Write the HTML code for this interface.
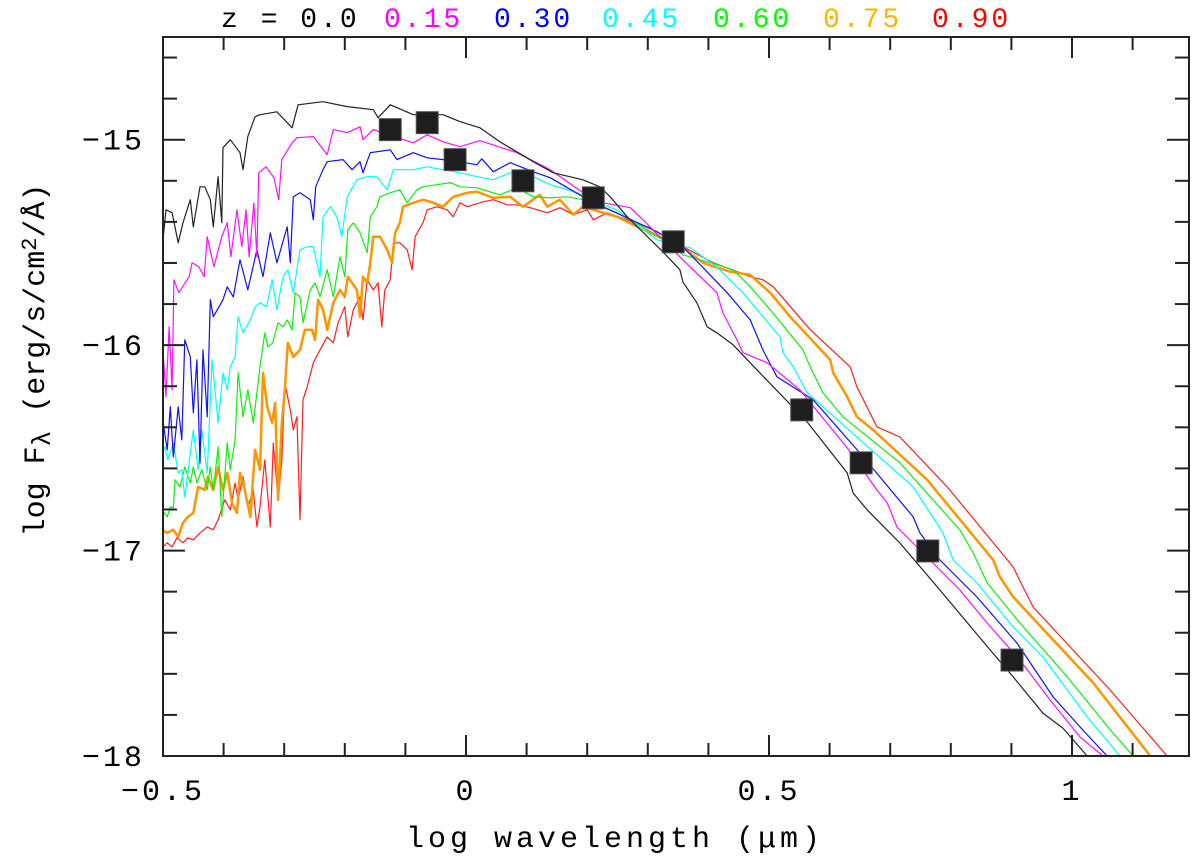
<!DOCTYPE html>
<html><head><meta charset="utf-8"><style>
html,body{margin:0;padding:0;background:#fff;}
svg{display:block;}
text{font-family:"Liberation Mono","DejaVu Sans Mono",monospace;}
</style></head><body>
<svg id="chart" width="1200" height="863" viewBox="0 0 1200 863" xmlns="http://www.w3.org/2000/svg">
<defs><clipPath id="plotclip"><rect x="163" y="37" width="1026" height="719"/></clipPath></defs>
<g font-size="28" letter-spacing="3">
<text x="221" y="27" fill="#000">z = 0.0</text>
<text x="384" y="27" fill="#ff00ff">0.15</text>
<text x="494" y="27" fill="#0000ff">0.30</text>
<text x="602" y="27" fill="#00ffff">0.45</text>
<text x="713" y="27" fill="#00ff00">0.60</text>
<text x="823" y="27" fill="#ffb400">0.75</text>
<text x="932" y="27" fill="#ff0000">0.90</text>
</g>
<g id="series" clip-path="url(#plotclip)"></g>
<g id="markers"></g>
<g id="axes"></g>
<text x="615" y="847" font-size="30" letter-spacing="4" text-anchor="middle" fill="#000">log wavelength (μm)</text>
<text transform="translate(44,360) rotate(-90)" font-size="30" text-anchor="middle" fill="#000">log F<tspan font-size="26" dy="6">λ</tspan><tspan dy="-6"> (erg/s/cm</tspan><tspan font-size="22" dy="-8">2</tspan><tspan dy="8">/Å)</tspan></text>
</svg>
<script>
const xTicksMajor = [-0.5, 0, 0.5, 1];
const xTickLabels = ["-0.5", "0", "0.5", "1"];
const yTicksMajor = [-15, -16, -17, -18];
const yTickLabels = ["-15", "-16", "-17", "-18"];

const blackX = [-0.5,-0.495,-0.485,-0.475,-0.467,-0.455,-0.45,-0.439,-0.431,-0.422,-0.417,-0.409,-0.403,-0.401,-0.389,-0.373,-0.368,-0.36,-0.348,-0.34,-0.312,-0.287,-0.277,-0.236,-0.196,-0.153,-0.145,-0.125,-0.087,-0.038,-0.01,0.023,0.056,0.111,0.144,0.193,0.221,0.238,0.266,0.325,0.353,0.358,0.381,0.398,0.414,0.441,0.485,0.563,0.629,0.639,0.662,0.716,0.782,0.865,0.903,0.952,0.985,1.025];
const blackY = [-15.487,-15.341,-15.356,-15.502,-15.404,-15.292,-15.424,-15.229,-15.229,-15.292,-15.424,-15.18,-15.404,-15.039,-15.0,-15.063,-15.146,-14.985,-14.888,-14.878,-14.864,-14.942,-14.83,-14.815,-14.839,-14.854,-14.893,-14.83,-14.878,-14.878,-14.912,-14.942,-15.01,-15.107,-15.161,-15.195,-15.229,-15.278,-15.375,-15.546,-15.633,-15.692,-15.794,-15.911,-15.94,-15.999,-16.135,-16.374,-16.622,-16.72,-16.802,-16.963,-17.192,-17.484,-17.615,-17.791,-17.864,-18.0];

const magentaX = [-0.5,-0.495,-0.49,-0.485,-0.482,-0.474,-0.457,-0.452,-0.441,-0.432,-0.427,-0.416,-0.403,-0.394,-0.388,-0.378,-0.37,-0.363,-0.358,-0.35,-0.345,-0.342,-0.33,-0.317,-0.309,-0.304,-0.287,-0.279,-0.252,-0.229,-0.219,-0.196,-0.175,-0.17,-0.153,-0.12,-0.087,-0.064,-0.038,-0.01,0.023,0.084,0.139,0.193,0.226,0.271,0.292,0.325,0.358,0.414,0.424,0.447,0.457,0.497,0.551,0.629,0.678,0.695,0.711,0.749,0.815,0.86,0.914,0.964,1.013,1.051];
const magentaY = [-16.023,-16.252,-15.911,-16.218,-15.682,-15.745,-15.667,-15.599,-15.619,-15.667,-15.472,-15.619,-15.472,-15.404,-15.57,-15.341,-15.521,-15.341,-15.57,-15.307,-15.57,-15.161,-15.132,-15.185,-15.292,-15.097,-15.015,-14.99,-14.985,-15.073,-14.951,-14.966,-14.937,-15.0,-14.951,-14.985,-15.015,-14.976,-15.01,-15.034,-15.005,-15.063,-15.146,-15.258,-15.307,-15.331,-15.39,-15.487,-15.585,-15.745,-15.843,-15.974,-16.037,-16.086,-16.218,-16.5,-16.705,-16.768,-16.885,-16.997,-17.192,-17.353,-17.533,-17.728,-17.907,-18.0];

const blueX = [-0.502,-0.493,-0.488,-0.483,-0.475,-0.469,-0.464,-0.455,-0.45,-0.444,-0.439,-0.434,-0.427,-0.422,-0.417,-0.401,-0.394,-0.384,-0.373,-0.36,-0.345,-0.335,-0.323,-0.312,-0.295,-0.29,-0.285,-0.274,-0.257,-0.252,-0.248,-0.236,-0.229,-0.203,-0.188,-0.175,-0.17,-0.158,-0.125,-0.114,-0.087,-0.064,-0.038,-0.01,0.018,0.026,0.045,0.073,0.111,0.139,0.193,0.226,0.315,0.358,0.431,0.469,0.49,0.513,0.573,0.65,0.738,0.749,0.782,0.843,0.909,0.969,1.018,1.058];
const blueY = [-16.33,-16.51,-16.3,-16.544,-16.3,-16.461,-15.974,-16.057,-16.33,-16.072,-16.574,-16.023,-16.349,-15.779,-15.862,-15.779,-15.716,-15.765,-15.585,-15.731,-15.536,-15.667,-15.453,-15.599,-15.424,-15.599,-15.278,-15.258,-15.292,-15.39,-15.229,-15.146,-15.107,-15.097,-15.146,-15.107,-15.161,-15.063,-15.049,-15.097,-15.063,-15.088,-15.097,-15.107,-15.122,-15.093,-15.156,-15.112,-15.156,-15.185,-15.278,-15.326,-15.448,-15.521,-15.745,-15.877,-16.023,-16.154,-16.266,-16.525,-16.836,-16.914,-17.046,-17.226,-17.45,-17.713,-17.874,-18.0];

const cyanX = [-0.502,-0.497,-0.492,-0.483,-0.475,-0.469,-0.464,-0.455,-0.45,-0.442,-0.436,-0.427,-0.419,-0.409,-0.401,-0.394,-0.389,-0.381,-0.376,-0.368,-0.356,-0.348,-0.34,-0.329,-0.32,-0.312,-0.302,-0.294,-0.285,-0.274,-0.262,-0.252,-0.241,-0.236,-0.224,-0.213,-0.205,-0.196,-0.18,-0.163,-0.147,-0.13,-0.12,-0.087,-0.064,-0.038,-0.01,0.018,0.045,0.073,0.111,0.139,0.183,0.205,0.249,0.315,0.37,0.414,0.457,0.518,0.523,0.54,0.563,0.65,0.738,0.787,0.804,0.843,0.903,0.952,1.025,1.079];
const cyanY = [-16.544,-16.495,-16.559,-16.476,-16.622,-16.607,-16.739,-16.524,-16.413,-16.607,-16.413,-16.622,-16.072,-16.378,-16.135,-16.218,-16.106,-16.057,-15.862,-15.94,-15.877,-15.813,-15.794,-15.813,-15.682,-15.828,-15.667,-15.633,-15.745,-15.536,-15.521,-15.521,-15.667,-15.375,-15.326,-15.375,-15.472,-15.278,-15.195,-15.18,-15.18,-15.244,-15.146,-15.146,-15.132,-15.146,-15.161,-15.18,-15.195,-15.161,-15.18,-15.219,-15.258,-15.292,-15.341,-15.487,-15.526,-15.619,-15.745,-15.96,-16.037,-16.106,-16.232,-16.461,-16.69,-16.914,-17.046,-17.158,-17.372,-17.518,-17.81,-18.0];

const greenX = [-0.502,-0.493,-0.488,-0.483,-0.48,-0.472,-0.464,-0.455,-0.45,-0.444,-0.436,-0.427,-0.422,-0.417,-0.409,-0.403,-0.394,-0.389,-0.381,-0.376,-0.368,-0.36,-0.351,-0.34,-0.332,-0.327,-0.319,-0.31,-0.302,-0.295,-0.287,-0.282,-0.274,-0.269,-0.257,-0.249,-0.241,-0.229,-0.219,-0.208,-0.2,-0.195,-0.186,-0.175,-0.163,-0.158,-0.147,-0.142,-0.125,-0.109,-0.097,-0.081,-0.071,-0.048,-0.026,-0.01,0.018,0.056,0.084,0.111,0.139,0.167,0.193,0.249,0.292,0.325,0.358,0.414,0.441,0.469,0.502,0.556,0.568,0.589,0.622,0.716,0.815,0.837,0.86,0.914,0.992,1.063,1.101];
const greenY = [-16.802,-16.836,-16.787,-16.792,-16.656,-16.69,-16.593,-16.671,-16.593,-16.671,-16.607,-16.705,-16.593,-16.705,-16.495,-16.836,-16.476,-16.607,-16.461,-16.135,-16.349,-16.218,-16.378,-16.106,-15.94,-16.008,-15.989,-15.891,-15.911,-15.877,-15.926,-15.745,-15.765,-15.891,-15.731,-15.697,-15.765,-15.633,-15.765,-15.57,-15.667,-15.438,-15.404,-15.453,-15.55,-15.375,-15.326,-15.278,-15.258,-15.244,-15.307,-15.244,-15.229,-15.219,-15.209,-15.229,-15.234,-15.268,-15.234,-15.278,-15.283,-15.278,-15.292,-15.356,-15.424,-15.487,-15.56,-15.609,-15.633,-15.716,-15.828,-16.023,-16.106,-16.232,-16.349,-16.573,-16.9,-17.012,-17.158,-17.353,-17.615,-17.873,-18.0];

const orangeX = [-0.502,-0.493,-0.483,-0.475,-0.467,-0.459,-0.45,-0.442,-0.431,-0.426,-0.417,-0.409,-0.401,-0.394,-0.386,-0.378,-0.373,-0.365,-0.356,-0.348,-0.34,-0.335,-0.328,-0.32,-0.315,-0.31,-0.304,-0.299,-0.294,-0.285,-0.274,-0.266,-0.254,-0.249,-0.244,-0.236,-0.229,-0.219,-0.208,-0.2,-0.195,-0.188,-0.18,-0.175,-0.17,-0.163,-0.158,-0.153,-0.142,-0.13,-0.122,-0.117,-0.109,-0.104,-0.087,-0.071,-0.054,-0.038,-0.021,0.002,0.018,0.045,0.073,0.094,0.122,0.134,0.155,0.177,0.193,0.249,0.304,0.358,0.391,0.436,0.469,0.502,0.535,0.601,0.606,0.629,0.645,0.672,0.761,0.87,0.881,0.903,1.035,1.129];
const orangeY = [-16.899,-16.914,-16.899,-16.933,-16.865,-16.836,-16.817,-16.69,-16.705,-16.641,-16.705,-16.593,-16.705,-16.622,-16.768,-16.817,-16.622,-16.705,-16.836,-16.51,-16.607,-16.135,-16.3,-16.378,-16.281,-16.753,-16.378,-16.218,-15.989,-16.057,-16.023,-15.926,-15.926,-15.974,-15.779,-15.828,-15.926,-15.794,-15.731,-15.765,-15.667,-15.697,-15.731,-15.862,-15.667,-15.697,-15.599,-15.472,-15.472,-15.536,-15.599,-15.453,-15.404,-15.326,-15.307,-15.292,-15.307,-15.326,-15.278,-15.258,-15.253,-15.283,-15.278,-15.326,-15.268,-15.326,-15.292,-15.365,-15.326,-15.375,-15.453,-15.526,-15.599,-15.643,-15.658,-15.745,-15.862,-16.072,-16.135,-16.252,-16.349,-16.413,-16.656,-17.046,-17.128,-17.226,-17.644,-18.0];

const redX = [-0.502,-0.493,-0.485,-0.477,-0.467,-0.459,-0.45,-0.439,-0.427,-0.417,-0.409,-0.398,-0.389,-0.381,-0.376,-0.368,-0.36,-0.351,-0.345,-0.34,-0.332,-0.323,-0.318,-0.31,-0.304,-0.299,-0.29,-0.285,-0.279,-0.274,-0.269,-0.262,-0.252,-0.241,-0.229,-0.219,-0.211,-0.2,-0.195,-0.186,-0.175,-0.17,-0.163,-0.153,-0.145,-0.139,-0.134,-0.125,-0.12,-0.109,-0.097,-0.089,-0.084,-0.071,-0.064,-0.048,-0.031,-0.021,-0.01,0.002,0.028,0.045,0.068,0.084,0.106,0.134,0.155,0.177,0.2,0.21,0.233,0.304,0.325,0.358,0.408,0.469,0.49,0.507,0.568,0.634,0.645,0.678,0.716,0.794,0.903,0.919,0.936,1.063,1.157];
const redY = [-16.987,-16.962,-16.982,-16.938,-16.962,-16.938,-16.948,-16.914,-16.885,-16.899,-16.85,-16.753,-16.802,-16.671,-16.753,-16.641,-16.788,-16.705,-16.885,-16.788,-16.559,-16.885,-16.476,-16.753,-16.559,-16.184,-16.315,-16.413,-16.349,-16.85,-16.266,-16.203,-16.086,-16.023,-15.96,-15.989,-15.891,-15.813,-15.96,-15.828,-15.765,-15.877,-15.682,-15.731,-15.697,-15.911,-15.731,-15.682,-15.502,-15.502,-15.536,-15.633,-15.472,-15.404,-15.341,-15.326,-15.341,-15.375,-15.307,-15.326,-15.302,-15.292,-15.317,-15.317,-15.331,-15.356,-15.331,-15.365,-15.341,-15.39,-15.356,-15.429,-15.487,-15.521,-15.599,-15.667,-15.682,-15.716,-15.925,-16.106,-16.203,-16.398,-16.447,-16.69,-17.08,-17.177,-17.275,-17.679,-18.0];

const photX = [-0.125,-0.064,-0.018,0.094,0.21,0.342,0.554,0.652,0.762,0.901];
const photY = [-14.951,-14.917,-15.097,-15.2,-15.283,-15.497,-16.315,-16.573,-17.002,-17.533];

const NS = "http://www.w3.org/2000/svg";
const L = 163, R = 1189, T = 37, B = 756;
const XMIN = -0.5, YMIN = -18, YMAX = -14.5;
const XPX = 606;
function sx(v){ return L + (v - XMIN) * XPX; }
function sy(v){ return B - (v - YMIN) / (YMAX - YMIN) * (B - T); }
function mk(tag, parent){ const e = document.createElementNS(NS, tag); parent.appendChild(e); return e; }

const seriesG = document.getElementById('series');
function drawSeries(xs, ys, color, w, name){
  const p = mk('path', seriesG);
  
  
  p.setAttribute('d', xs.map((x,i)=>(i?'L':'M')+sx(x).toFixed(1)+','+sy(ys[i]).toFixed(1)).join(''));
  p.setAttribute('fill', 'none');
  p.setAttribute('stroke', color);
  p.setAttribute('stroke-width', w);
  p.setAttribute('stroke-linejoin', 'round');
}
drawSeries(redX, redY, '#ff2020', 1.2, 'series-z090');
drawSeries(orangeX, orangeY, '#ff9500', 2.5, 'series-z075');
drawSeries(greenX, greenY, '#10ee10', 1.2, 'series-z060');
drawSeries(cyanX, cyanY, '#00ffff', 1.2, 'series-z045');
drawSeries(blueX, blueY, '#1010ff', 1.2, 'series-z030');
drawSeries(magentaX, magentaY, '#ff10ff', 1.2, 'series-z015');
drawSeries(blackX, blackY, '#222', 1.2, 'series-z000');

const markG = document.getElementById('markers');
photX.forEach((x,i)=>{
  const r = mk('rect', markG);
  
  
  r.setAttribute('x', sx(x)-11); r.setAttribute('y', sy(photY[i])-11);
  r.setAttribute('width', 22); r.setAttribute('height', 22);
  r.setAttribute('fill', '#1e1e1e'); r.setAttribute('stroke', '#555'); r.setAttribute('stroke-width', 1);
});

const axG = document.getElementById('axes');
const frame = mk('rect', axG);


frame.setAttribute('x', L); frame.setAttribute('y', T); frame.setAttribute('width', R-L); frame.setAttribute('height', B-T);
frame.setAttribute('fill', 'none'); frame.setAttribute('stroke', '#222'); frame.setAttribute('stroke-width', 2);
function line(x1,y1,x2,y2){ const l = mk('line', axG); l.setAttribute('x1',x1); l.setAttribute('y1',y1); l.setAttribute('x2',x2); l.setAttribute('y2',y2); l.setAttribute('stroke','#222'); l.setAttribute('stroke-width',2); return l; }
for(let k=0;k<=17;k++){
  const v = XMIN + k*0.1; const px = sx(v); if(px > R) break;
  const major = (k % 5 === 0); const len = major ? 21 : 13;
  const t1 = line(px, B, px, B-len);
  
  
  const t2 = line(px, T, px, T+len);
  
  
}
for(let k=0;k<=17;k++){
  const v = YMIN + k*0.2; const py = sy(v); if(py < T+1) break;
  const major = (k % 5 === 0); const len = major ? 22 : 14;
  const t1 = line(L, py, L+len, py);
  
  
  const t2 = line(R, py, R-len, py);
  
  
}
xTicksMajor.forEach((v,i)=>{
  const t = mk('text', axG);
  
  
  t.setAttribute('x', sx(v)); t.setAttribute('y', 800);
  t.setAttribute('font-size', 30); t.setAttribute('letter-spacing', 3); t.setAttribute('text-anchor', 'middle'); t.setAttribute('fill', '#000');
  t.textContent = xTickLabels[i].replace('-', '\u2212');
});
yTicksMajor.forEach((v,i)=>{
  const t = mk('text', axG);
  
  
  t.setAttribute('x', 145); t.setAttribute('y', sy(v)+10);
  t.setAttribute('font-size', 30); t.setAttribute('letter-spacing', 3); t.setAttribute('text-anchor', 'end'); t.setAttribute('fill', '#000');
  t.textContent = yTickLabels[i].replace('-', '\u2212');
});
</script>
</body></html>
